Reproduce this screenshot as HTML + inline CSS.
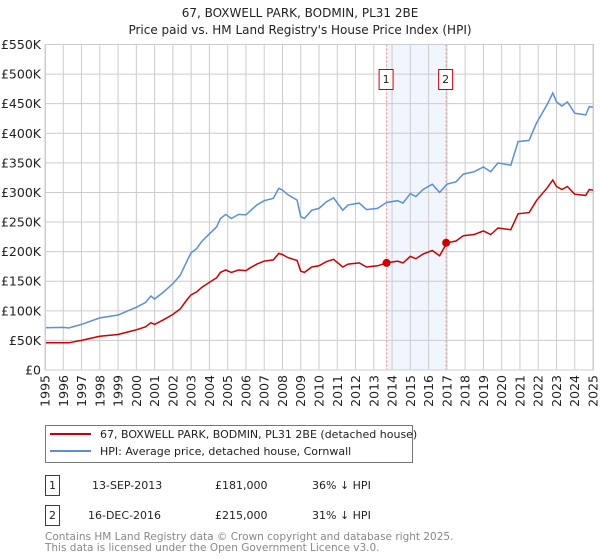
<!DOCTYPE html>
<html><head><meta charset="utf-8"><style>
body{margin:0;background:#fff;font-family:"DejaVu Sans","Liberation Sans",sans-serif;}
svg{display:block}
</style></head><body>
<svg id="chart" width="600" height="560" viewBox="0 0 600 560" font-family="DejaVu Sans, Liberation Sans, sans-serif">
<text x="300" y="17" text-anchor="middle" font-size="12" fill="#222">67, BOXWELL PARK, BODMIN, PL31 2BE</text>
<text x="300" y="34" text-anchor="middle" font-size="12" fill="#222">Price paid vs. HM Land Registry's House Price Index (HPI)</text>
<g id="grid"></g><g id="marks"></g><g id="axes"></g>
<g>
<rect x="45.5" y="425.5" width="367" height="37" fill="#fff" stroke="#777"/>
<line x1="50" y1="434" x2="91" y2="434" stroke="#cc0000" stroke-width="2"/>
<text x="100" y="438" font-size="11" fill="#222">67, BOXWELL PARK, BODMIN, PL31 2BE (detached house)</text>
<line x1="50" y1="451" x2="91" y2="451" stroke="#5b8fd6" stroke-width="2"/>
<text x="100" y="455" font-size="11" fill="#222">HPI: Average price, detached house, Cornwall</text>
</g>
<g font-size="11" fill="#222">
<rect x="45.5" y="475.5" width="14" height="20" fill="#fff" stroke="#cc0000"/>
<text x="52.5" y="489" text-anchor="middle">1</text>
<text x="92" y="489">13-SEP-2013</text><text x="215" y="489">£181,000</text><text x="312" y="489">36% ↓ HPI</text>
<rect x="45.5" y="505.5" width="14" height="20" fill="#fff" stroke="#cc0000"/>
<text x="52.5" y="519" text-anchor="middle">2</text>
<text x="88" y="519">16-DEC-2016</text><text x="215" y="519">£215,000</text><text x="312" y="519">31% ↓ HPI</text>
</g>
<text x="45" y="540" font-size="10.5" fill="#888">Contains HM Land Registry data © Crown copyright and database right 2025.</text>
<text x="45" y="551" font-size="10.5" fill="#888">This data is licensed under the Open Government Licence v3.0.</text>
</svg>
<script>
const dates=[1995,1996,1996.3,1997,1998,1999,2000,2000.5,2000.8,2001,2001.5,2002,2002.4,2002.8,2003,2003.3,2003.6,2004,2004.4,2004.6,2004.9,2005.2,2005.6,2006,2006.2,2006.6,2007,2007.5,2007.8,2008,2008.3,2008.8,2009,2009.2,2009.6,2010,2010.4,2010.8,2011.3,2011.6,2012.2,2012.6,2013.2,2013.7,2014.3,2014.6,2015,2015.3,2015.7,2016.2,2016.6,2017,2017.5,2017.9,2018.5,2019,2019.4,2019.8,2020.5,2020.9,2021.5,2021.9,2022.5,2022.8,2023,2023.3,2023.6,2024,2024.6,2024.8,2025];
const hpi=[71.5,72,71,77,88,93,106,114,125,120,132,146,160,186,198,205,218,230,242,256,263,256,263,262,268,279,286,290,307,304,296,287,259,256,270,273,284,291,270,279,282,271,273,283,286,282,298,293,305,314,300,314,318,331,335,343,335,350,346,386,388,417,449,468,453,446,453,434,431,445,444];
const price=[46,46,46,50,57,60,68,73,80,77,85,94,103,120,127,132,140,148,156,165,169,165,169,168,172,179,184,186,197,195,190,185,167,165,174,176,183,187,174,179,181,174,176,181,184,181,192,188,196,202,193,215,218,227,229,235,229,240,237,264,266,286,308,321,310,305,310,297,295,305,304];
const saleDates=[2013.7,2016.96];
const saleValues=[181,215];
const saleLabels=["1","2"];
const yTicks=[0,50,100,150,200,250,300,350,400,450,500,550];
const yTickLabels=["£0","£50K","£100K","£150K","£200K","£250K","£300K","£350K","£400K","£450K","£500K","£550K"];
const xTicks=[1995,1996,1997,1998,1999,2000,2001,2002,2003,2004,2005,2006,2007,2008,2009,2010,2011,2012,2013,2014,2015,2016,2017,2018,2019,2020,2021,2022,2023,2024,2025];
const X0=45,X1=593,Y0=370,Y1=44.5;
const xs=d=>X0+(d-1995)/(2025-1995)*(X1-X0);
const ys=v=>Y0-v/550*(Y0-Y1);
const NS="http://www.w3.org/2000/svg";
function mk(tag,attrs,parent){const e=document.createElementNS(NS,tag);for(const k in attrs)e.setAttribute(k,attrs[k]);parent.appendChild(e);return e;}
const grid=document.getElementById('grid'),marks=document.getElementById('marks'),axes=document.getElementById('axes');
const band=mk('rect',{x:xs(saleDates[0]),y:Y1,width:xs(saleDates[1])-xs(saleDates[0]),height:Y0-Y1,fill:'#f1f5fd'},grid);


xTicks.forEach(t=>{const l=mk('line',{x1:xs(t),x2:xs(t),y1:Y1,y2:Y0,stroke:'#cccccc'},grid);


const tx=mk('text',{x:0,y:0,'font-size':'12.5',fill:'#222','text-anchor':'end',transform:`translate(${xs(t)+4.5},${Y0+5}) rotate(-90)`},axes);tx.textContent=t;

});
yTicks.forEach((t,i)=>{const l=mk('line',{x1:X0,x2:X1,y1:ys(t),y2:ys(t),stroke:'#cccccc'},grid);


const tx=mk('text',{x:X0-4,y:ys(t)+4.5,'font-size':'12.5',fill:'#222','text-anchor':'end'},axes);tx.textContent=yTickLabels[i];

});
saleDates.forEach((d,i)=>{const l=mk('line',{x1:xs(d),x2:xs(d),y1:Y1,y2:Y0,stroke:'#e88','stroke-dasharray':'2,2'},grid);


const r=mk('rect',{x:xs(d)-7.5,y:69.5,width:14,height:20,fill:'#fff',stroke:'#cc0000'},marks);


const tx=mk('text',{x:xs(d)-0.5,y:83,'font-size':'11','text-anchor':'middle',fill:'#222'},marks);tx.textContent=saleLabels[i];

});
const pts=a=>a.map((v,i)=>xs(dates[i]).toFixed(1)+','+ys(v).toFixed(1)).join(' ');
const hl=mk('polyline',{points:pts(hpi),fill:'none',stroke:'#5b8fd6','stroke-width':'1.5'},marks);


const pl=mk('polyline',{points:pts(price),fill:'none',stroke:'#cc0000','stroke-width':'1.5'},marks);


saleDates.forEach((d,i)=>{const c=mk('circle',{cx:xs(d),cy:ys(saleValues[i]),r:4,fill:'#cc0000'},marks);

});
const b=mk('rect',{x:X0+0.5,y:Y1,width:X1-X0,height:Y0-Y1,fill:'none',stroke:'#cccccc'},axes);


</script>
</body></html>
